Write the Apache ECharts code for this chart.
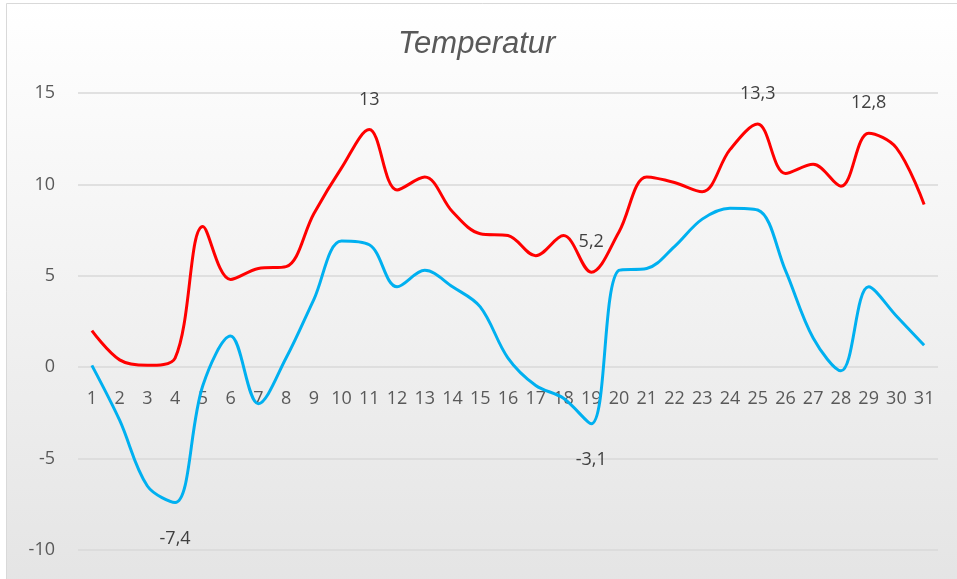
<!DOCTYPE html>
<html>
<head>
<meta charset="utf-8">
<script src="https://cdn.jsdelivr.net/npm/echarts@6/dist/echarts.min.js"></script>
<style>
  html, body { margin: 0; padding: 0; background: #fff; }
  #chart { width: 957px; height: 579px; }
</style>
</head>
<body>
<div id="chart"></div>
<script>
// Tage im Monat
const days = ['1','2','3','4','5','6','7','8','9','10','11','12','13','14','15','16','17','18','19','20','21','22','23','24','25','26','27','28','29','30','31']
// Höchsttemperatur
const maxTemp = [2.0, 0.4, 0.1, 0.5, 7.7, 4.8, 5.4, 5.5, 8.4, 10.9, 13.0, 9.7, 10.4, 8.5, 7.3, 7.2, 6.1, 7.2, 5.2, 7.4, 10.4, 10.1, 9.6, 11.9, 13.3, 10.6, 11.1, 9.9, 12.8, 12.0, 8.9]
// Tiefsttemperatur
const minTemp = [0.1, -2.9, -6.5, -7.4, -1.0, 1.7, -2.0, 0.5, 3.7, 6.9, 6.7, 4.4, 5.3, 4.4, 3.3, 0.5, -1.0, -1.7, -3.1, 5.3, 5.4, 6.6, 8.1, 8.7, 8.6, 5.3, 1.6, -0.2, 4.4, 2.8, 1.2]
// welche Punkte beschriftet sind
const maxLabelIdx = [10, 18, 24, 28]
const minLabelIdx = [3, 18]

const fmt = v => String(v).replace('.', ',')

function buildData(values, labelIdx, pos, dist) {
    return values.map((v, i) => {
        if (labelIdx.indexOf(i) < 0) return v
        return {
            value: v,
            label: {
                show: true,
                position: pos,
                distance: dist,
                formatter: p => fmt(p.value),
                color: '#404040',
                fontSize: 18,
                fontFamily: 'Open Sans'
            }
        }
    })
}

const chart = echarts.init(document.getElementById('chart'))
chart.setOption({
    backgroundColor: '#fff',
    animation: false,
    graphic: [{
        type: 'rect',
        z: -10,
        silent: true,
        shape: { x: 6.5, y: 3.5, width: 960, height: 590 },
        style: {
            fill: new echarts.graphic.LinearGradient(0, 0, 0, 1, [
                { offset: 0, color: '#ffffff' },
                { offset: 1, color: '#e4e4e4' }
            ]),
            stroke: '#d9d9d9',
            lineWidth: 1
        }
    }],
    title: {
        text: 'Temperatur',
        left: 393,
        top: 24,
        textStyle: {
            fontStyle: 'italic',
            fontWeight: 'normal',
            fontSize: 31,
            color: '#595959',
            fontFamily: 'Liberation Sans'
        }
    },
    grid: { left: 78, right: 19, top: 93, bottom: 29 },
    xAxis: {
        type: 'category',
        data: days,
        // Achse auf Höhe der Null
        offset: -183,
        axisLine: { show: false, onZero: false },
        axisTick: { show: false },
        axisLabel: {
            interval: 0,
            margin: 23,
            color: '#595959',
            fontSize: 18,
            fontFamily: 'Open Sans'
        }
    },
    yAxis: {
        type: 'value',
        min: -10,
        max: 15,
        interval: 5,
        axisLabel: {
            margin: 23,
            color: '#595959',
            fontSize: 18,
            fontFamily: 'Open Sans'
        },
        splitLine: { lineStyle: { color: '#d9d9d9', width: 1.5 } }
    },
    series: [
        {
            name: 'Max',
            type: 'line',
            smooth: 0.35,
            symbol: 'circle',
            symbolSize: 0,
            showAllSymbol: true,
            lineStyle: { color: '#ff0000', width: 3 },
            itemStyle: { color: '#ff0000' },
            data: buildData(maxTemp, maxLabelIdx, 'top', 21)
        },
        {
            name: 'Min',
            type: 'line',
            smooth: 0.35,
            symbol: 'circle',
            symbolSize: 0,
            showAllSymbol: true,
            lineStyle: { color: '#00b0f0', width: 3 },
            itemStyle: { color: '#00b0f0' },
            data: buildData(minTemp, minLabelIdx, 'bottom', 27)
        }
    ]
})
</script>
</body>
</html>
